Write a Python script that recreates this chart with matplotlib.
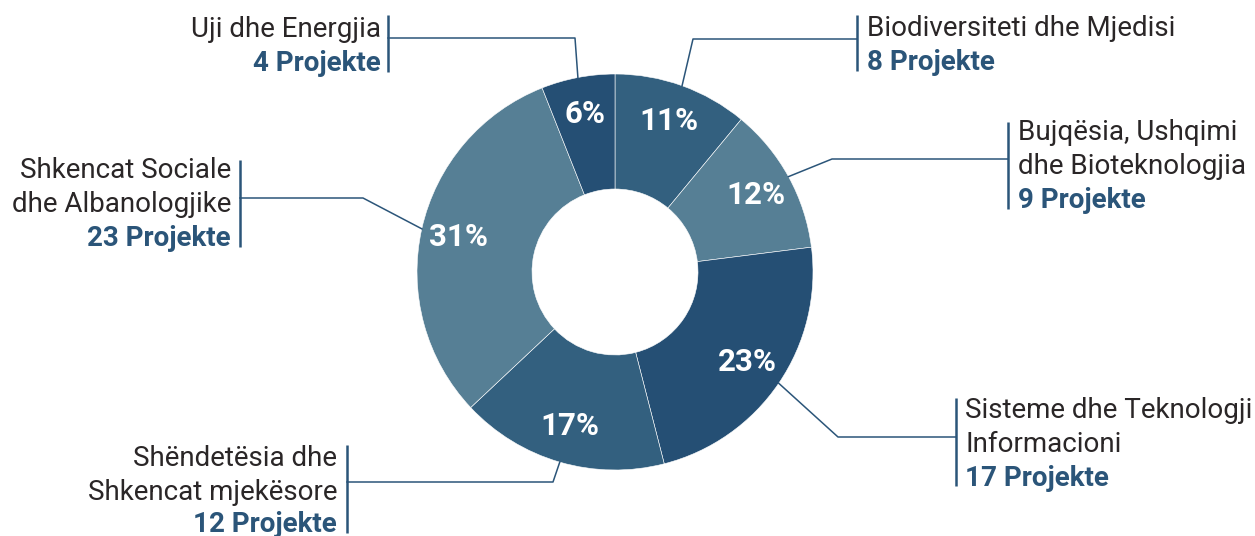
import numpy as np
import matplotlib.pyplot as plt

plt.rcParams["font.family"] = ["Roboto", "DejaVu Sans"]

# ---- data ----
name_lines = [
    ["Biodiversiteti dhe Mjedisi"],
    ["Bujqësia, Ushqimi", "dhe Bioteknologjia"],
    ["Sisteme dhe Teknologji", "Informacioni"],
    ["Shëndetësia dhe", "Shkencat mjekësore"],
    ["Shkencat Sociale", "dhe Albanologjike"],
    ["Uji dhe Energjia"],
]
projects = [8, 9, 17, 12, 23, 4]
percent = [11, 12, 23, 17, 31, 6]

slice_colors = ["#33607f", "#567f95", "#254f74", "#33607f", "#567f95", "#254f74"]
TEXT = "#2a2627"
BLUE = "#2b5579"

# ---- layout (pixels in a 1255x536 canvas) ----
W, H = 1255, 536
CX, CY, R_OUT, R_IN = 615, 272, 198, 83

# side, bar x, bar top, bar bottom, text x, baselines, connector y, elbow x
layout = [
    ("right", 857, 15, 71, 867, [36, 70], 39, 693),
    ("right", 1008, 122, 209, 1018, [140, 174, 208], 159, 832),
    ("right", 956, 398, 486, 965, [418, 452, 486], 437, 838),
    ("left", 347, 445, 533, 337, [466, 500, 532], 482, 553),
    ("left", 240, 160, 247, 231, [178, 212, 246], 198, 363),
    ("left", 388, 15, 72, 381, [37, 71], 38, 575),
]


def px(x, y):
    return (x - CX) / R_OUT, (CY - y) / R_OUT


fig = plt.figure(figsize=(W / 100, H / 100), dpi=100)
ax = fig.add_axes([0, 0, 1, 1])

wedges, _, autotexts = ax.pie(
    percent,
    startangle=90,
    counterclock=False,
    colors=slice_colors,
    autopct="%.0f%%",
    pctdistance=0.81,
    wedgeprops=dict(width=(R_OUT - R_IN) / R_OUT, edgecolor="white", linewidth=0.4),
)
for t in autotexts:
    t.set_color("white")
    t.set_fontsize(22.5)
    t.set_fontweight("bold")

x0, _ = px(0, 0)
x1, _ = px(W, 0)
_, y0 = px(0, H)
_, y1 = px(0, 0)
ax.set_xlim(x0, x1)
ax.set_ylim(y0, y1)
ax.set_aspect("equal")
ax.axis("off")

for w, lines, n, lay in zip(wedges, name_lines, projects, layout):
    side, bx, btop, bbot, tx, bases, cy, ex = lay
    mid = np.deg2rad((w.theta1 + w.theta2) / 2)
    anchor = (np.cos(mid), np.sin(mid))

    # vertical bar
    p_top = px(bx, btop)
    p_bot = px(bx, bbot)
    ax.plot([p_top[0], p_bot[0]], [p_top[1], p_bot[1]], color=BLUE, lw=1.8,
            solid_capstyle="butt")
    # connector
    pb = px(bx, cy)
    pe = px(ex, cy)
    ax.plot([pb[0], pe[0], anchor[0]], [pb[1], pe[1], anchor[1]], color=BLUE, lw=1.1)

    ha = "left" if side == "right" else "right"
    all_lines = lines + [f"{n} Projekte"]
    for i, (txt, by) in enumerate(zip(all_lines, bases)):
        last = i == len(all_lines) - 1
        ax.text(*px(tx, by), txt, ha=ha, va="baseline", fontsize=20,
                color=BLUE if last else TEXT,
                fontweight="bold" if last else "normal")

fig.savefig("out.png", dpi=100)
